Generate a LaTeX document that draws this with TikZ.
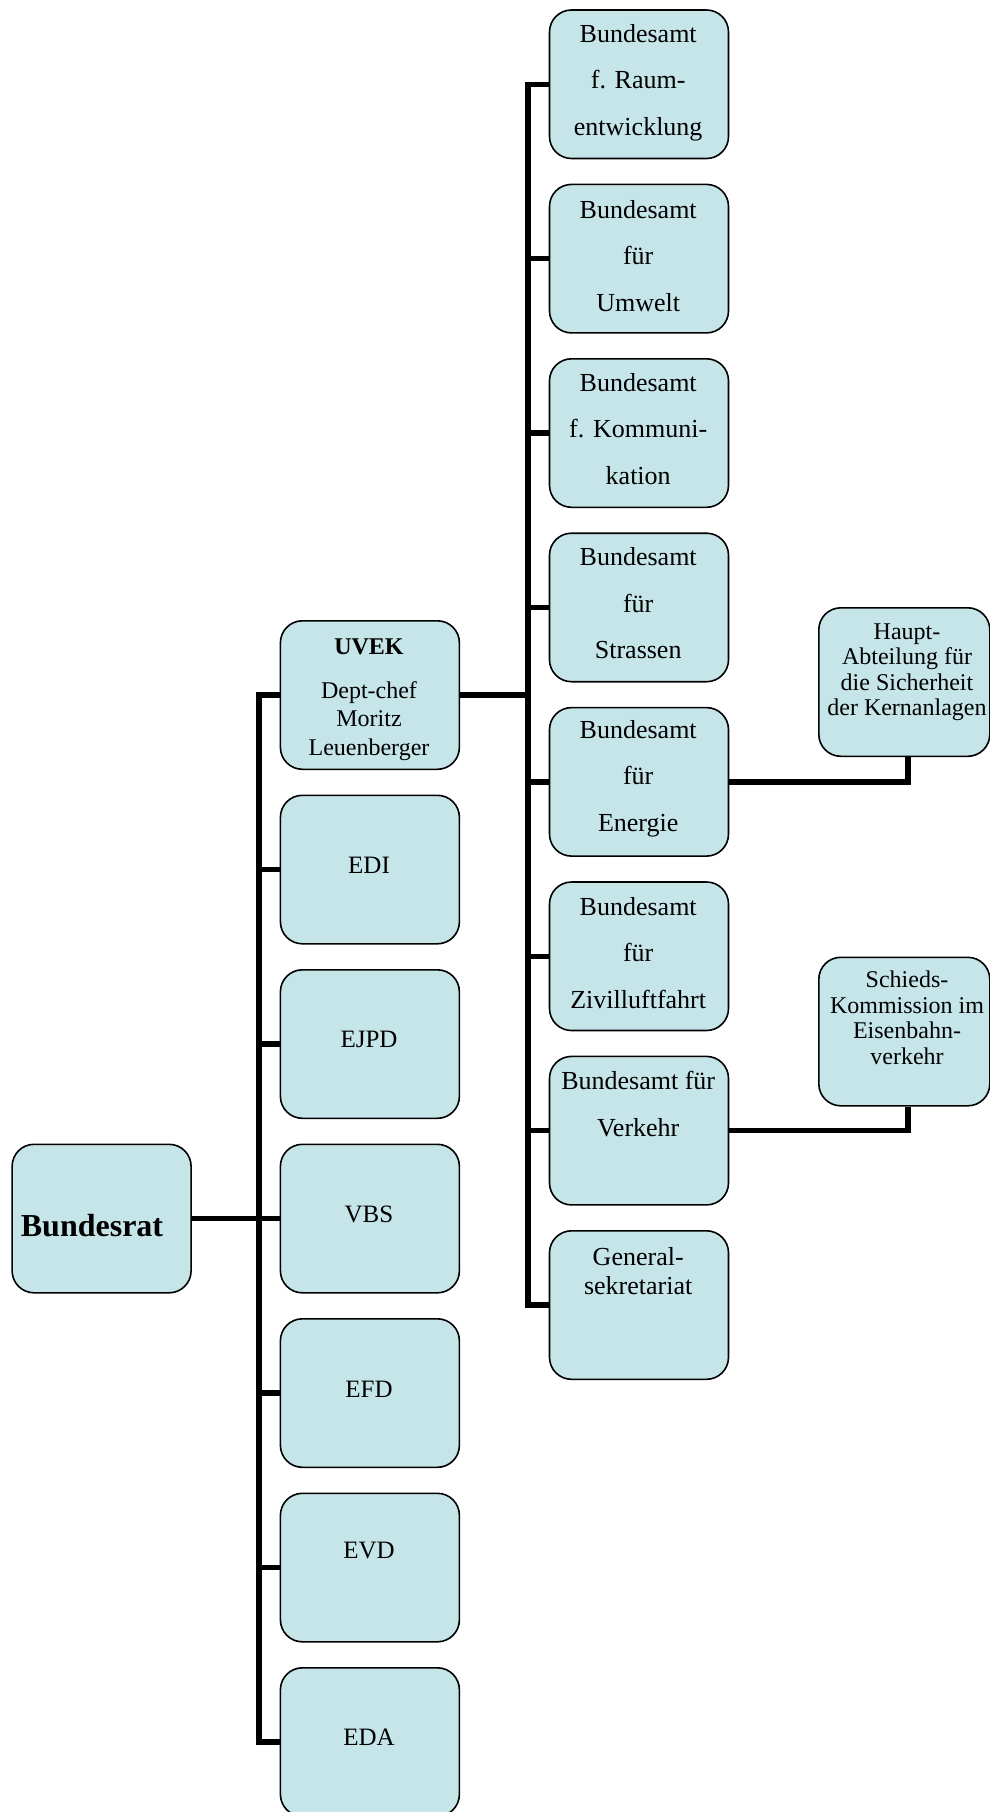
\documentclass[tikz,border=0pt]{standalone}
\usepackage{fontspec}
\setmainfont{Liberation Serif}
\definecolor{boxfill}{RGB}{197,229,232}
\tikzset{
  box/.style={draw=black, line width=1.6pt, fill=boxfill, rounded corners=22pt,
    minimum width=179pt, minimum height=148.5pt, anchor=north west, inner sep=0pt},
  conn/.style={line width=5.5pt, line join=miter},
  lbl/.style={align=center, inner sep=0pt},
  tthree/.style={lbl, font=\fontsize{26}{46.5}\selectfont},
  ttwo/.style={lbl, font=\fontsize{25}{29}\selectfont},
  tfour/.style={lbl, font=\fontsize{24}{25.5}\selectfont},
}
\begin{document}
\begin{tikzpicture}[x=1pt,y=-1pt]
\useasboundingbox (0,0) rectangle (990,1812);
% boxes
\node[box] (bund) at (11.3,1143.5) {};
\node[box] (uvek) at (279.6,620) {};
\node[box] (edi)  at (279.6,794.5) {};
\node[box] (ejpd) at (279.6,969) {};
\node[box] (vbs)  at (279.6,1143.5) {};
\node[box] (efd)  at (279.6,1318) {};
\node[box] (evd)  at (279.6,1492.5) {};
\node[box] (eda)  at (279.6,1667) {};
\node[box] (raum) at (548.7,9.2) {};
\node[box] (umw)  at (548.7,183.6) {};
\node[box] (kom)  at (548.7,358) {};
\node[box] (str)  at (548.7,532.4) {};
\node[box] (ene)  at (548.7,706.8) {};
\node[box] (ziv)  at (548.7,881.2) {};
\node[box] (ver)  at (548.7,1055.6) {};
\node[box] (gen)  at (548.7,1230) {};
\node[box, minimum width=171pt] (haupt) at (818,607) {};
\node[box, minimum width=171pt] (schied) at (818,956.5) {};
% texts
\node[lbl, font=\fontsize{32}{36}\selectfont\bfseries, anchor=base west] (tbund) at (20.7,1236) {Bundesrat};
\node[lbl, font=\fontsize{24}{28.5}\selectfont] (tuvek) at (369,699.5) {\textbf{UVEK}\\[15.5pt]Dept-chef\\Moritz\\Leuenberger};
\node[ttwo] (tedi)  at (369,865) {EDI};
\node[ttwo] (tejpd) at (369,1039.5) {EJPD};
\node[ttwo] (tvbs)  at (369,1214) {VBS};
\node[ttwo] (tefd)  at (369,1389) {EFD};
\node[ttwo] (tevd)  at (369,1550) {EVD};
\node[ttwo] (teda)  at (369,1737.5) {EDA};
\node[tthree] (traum) at (638.2,82.5) {Bundesamt\\f. Raum-\\entwicklung};
\node[tthree] (tumw)  at (638.2,256) {Bundesamt\\für\\Umwelt};
\node[tthree] (tkom)  at (638.2,429) {Bundesamt\\f. Kommuni-\\kation};
\node[tthree] (tstr)  at (638.2,603.5) {Bundesamt\\für\\Strassen};
\node[tthree] (tene)  at (638.2,778.5) {Bundesamt\\für\\Energie};
\node[tthree] (tziv)  at (638.2,953) {Bundesamt\\für\\Zivilluftfahrt};
\node[tthree] (tver)  at (638.2,1104) {Bundesamt für\\Verkehr};
\node[lbl, font=\fontsize{26}{29}\selectfont] (tgen) at (638.2,1271) {General-\\sekretariat};
\node[tfour] (thaupt) at (907,672) {Haupt-\\Abteilung für\\die Sicherheit\\der Kernanlagen};
\node[tfour] (tschied) at (907,1018) {Schieds-\\Kommission im\\Eisenbahn-\\verkehr};
% connectors
\coordinate (t1) at (259,0);
\coordinate (t2) at (528,0);
\draw[conn] (bund.east) -- (bund.east -| t1);
\draw[conn] (uvek.west) -- (uvek.west -| t1) -- (eda.west -| t1) -- (eda.west);
\foreach \n in {edi,ejpd,vbs,efd,evd}{\draw[conn] (\n.west -| t1) -- (\n.west);}
\draw[conn] (uvek.east) -- (uvek.east -| t2);
\draw[conn] (raum.west) -- (raum.west -| t2) -- (gen.west -| t2) -- (gen.west);
\foreach \n in {umw,kom,str,ene,ziv,ver}{\draw[conn] (\n.west -| t2) -- (\n.west);}
\draw[conn] (ene.east) -| ([xshift=3.5pt]haupt.south);
\draw[conn] (ver.east) -| ([xshift=3.5pt]schied.south);
\end{tikzpicture}
\end{document}
